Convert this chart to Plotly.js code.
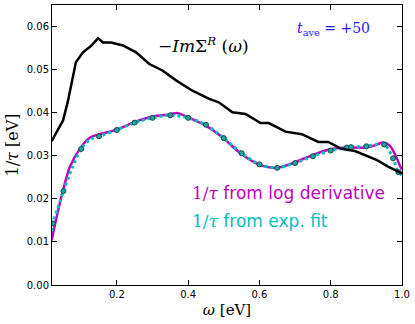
<!DOCTYPE html>
<html>
<head>
<meta charset="utf-8">
<script src="https://cdn.plot.ly/plotly-3.0.1.min.js"></script>
<style>
  html, body { margin: 0; padding: 0; background: #fff; }
  #chart { width: 415px; height: 324px; }
</style>
</head>
<body>
<div id="chart"></div>
<script>
// -Im Sigma^R (omega), black curve
var imOmega = [0.017, 0.049, 0.063, 0.073, 0.085, 0.105, 0.129, 0.147, 0.161, 0.184, 0.217, 0.254, 0.291, 0.328, 0.366, 0.412, 0.459, 0.486, 0.524, 0.561, 0.603, 0.626, 0.673, 0.719, 0.765, 0.793, 0.830, 0.868, 0.900, 0.930, 0.961, 0.993, 1.0];
var imSigma = [0.0334, 0.0382, 0.0428, 0.0467, 0.0517, 0.0540, 0.0556, 0.0573, 0.0563, 0.0563, 0.0556, 0.0540, 0.0513, 0.0498, 0.0475, 0.0451, 0.0432, 0.0424, 0.0401, 0.0397, 0.0376, 0.0376, 0.0356, 0.0350, 0.0332, 0.0332, 0.0316, 0.0311, 0.0300, 0.0290, 0.0275, 0.0262, 0.0259];

// 1/tau from log derivative, magenta
var logOmega = [0.017, 0.031, 0.049, 0.068, 0.096, 0.124, 0.152, 0.198, 0.249, 0.300, 0.347, 0.370, 0.403, 0.449, 0.496, 0.542, 0.598, 0.649, 0.700, 0.747, 0.793, 0.840, 0.896, 0.924, 0.945, 0.965, 0.984, 0.995, 1.0];
var logRate = [0.0104, 0.0158, 0.0220, 0.0274, 0.0316, 0.0342, 0.0350, 0.0360, 0.0378, 0.0391, 0.0396, 0.0399, 0.0388, 0.0370, 0.0343, 0.0309, 0.0280, 0.0272, 0.0285, 0.0301, 0.0314, 0.0319, 0.0319, 0.0324, 0.0331, 0.0324, 0.0297, 0.0275, 0.0268];

// 1/tau from exp. fit, cyan dotted
var fitOmega = [0.017, 0.02, 0.035, 0.05, 0.075, 0.10, 0.125, 0.15, 0.20, 0.25, 0.30, 0.35, 0.40, 0.45, 0.50, 0.55, 0.60, 0.65, 0.70, 0.75, 0.80, 0.85, 0.90, 0.95, 0.975, 0.99, 1.0];
var fitRate = [0.0125, 0.0143, 0.0180, 0.0218, 0.0272, 0.0316, 0.0338, 0.0345, 0.0360, 0.0377, 0.0388, 0.0394, 0.0388, 0.0372, 0.0341, 0.0306, 0.0280, 0.0272, 0.0283, 0.0299, 0.0312, 0.0319, 0.0322, 0.0326, 0.0294, 0.0262, 0.0255];

// fit sample points (circles)
var markOmega = [0.02, 0.05, 0.10, 0.15, 0.20, 0.25, 0.30, 0.35, 0.40, 0.45, 0.50, 0.55, 0.60, 0.65, 0.70, 0.75, 0.80, 0.845, 0.857, 0.90, 0.95, 0.975, 0.99];
var markRate = [0.0143, 0.0218, 0.0316, 0.0345, 0.0360, 0.0377, 0.0388, 0.0394, 0.0388, 0.0372, 0.0341, 0.0306, 0.0280, 0.0272, 0.0283, 0.0299, 0.0312, 0.0319, 0.0320, 0.0322, 0.0326, 0.0294, 0.0262];

var xTicks = [0.2, 0.4, 0.6, 0.8, 1.0];
var yTicks = [0.00, 0.01, 0.02, 0.03, 0.04, 0.05, 0.06];

var data = [
    { x: logOmega, y: logRate, mode: 'lines', line: { color: '#bf00bf', width: 2.5, shape: 'spline', smoothing: 0.8 } },
    { x: fitOmega, y: fitRate, mode: 'lines', line: { color: '#00bfbf', width: 3, dash: 'dot', shape: 'spline', smoothing: 0.8 } },
    { x: markOmega, y: markRate, mode: 'markers', marker: { size: 5, color: '#1fa5a5', line: { color: '#124848', width: 1 } } },
    { x: imOmega, y: imSigma, mode: 'lines', line: { color: '#000000', width: 2.5 } }
];

var serif = 'DejaVu Serif, Liberation Serif, serif';
var sans = 'DejaVu Sans, sans-serif';

var layout = {
    width: 415,
    height: 324,
    margin: { l: 52, r: 13, t: 5, b: 39 },
    showlegend: false,
    paper_bgcolor: '#ffffff',
    plot_bgcolor: '#ffffff',
    font: { family: sans, size: 10, color: '#000000' },
    xaxis: {
        range: [0.018, 1.0],
        tickvals: xTicks,
        ticktext: xTicks.map(function (v) { return v.toFixed(1); }),
        ticks: 'inside', ticklen: 5, tickcolor: '#000', mirror: 'allticks',
        showline: true, linecolor: '#000', linewidth: 1,
        showgrid: false, zeroline: false,
        tickfont: { family: sans, size: 10 },
        title: { text: '<i>ω</i> [eV]', font: { family: serif, size: 15 }, standoff: 5 }
    },
    yaxis: {
        range: [0, 0.065],
        tickvals: yTicks,
        ticktext: yTicks.map(function (v) { return v.toFixed(2); }),
        ticks: 'inside', ticklen: 5, tickcolor: '#000', mirror: 'allticks',
        showline: true, linecolor: '#000', linewidth: 1,
        showgrid: false, zeroline: false,
        tickfont: { family: sans, size: 10 },
        title: { text: '1/<i>τ</i> [eV]', font: { family: serif, size: 16 }, standoff: 4 }
    },
    annotations: [
        { x: 0.31, y: 0.0556, xref: 'x', yref: 'y', xanchor: 'left', yanchor: 'middle', showarrow: false,
          text: '−<i>Im</i>Σ<sup><i>R</i></sup> (<i>ω</i>)', font: { family: serif, size: 17, color: '#000' } },
        { x: 0.70, y: 0.0595, xref: 'x', yref: 'y', xanchor: 'left', yanchor: 'middle', showarrow: false,
          text: '<i>t</i><sub>ave</sub> = +50', font: { family: serif, size: 14, color: '#1a1aff' } },
        { x: 0.405, y: 0.0213, xref: 'x', yref: 'y', xanchor: 'left', yanchor: 'middle', showarrow: false,
          text: '<span style="font-family:DejaVu Serif">1/<i>τ</i></span> from log derivative', font: { family: sans, size: 17, color: '#bf00bf' } },
        { x: 0.405, y: 0.0148, xref: 'x', yref: 'y', xanchor: 'left', yanchor: 'middle', showarrow: false,
          text: '<span style="font-family:DejaVu Serif">1/<i>τ</i></span> from exp. fit', font: { family: sans, size: 17, color: '#00bfbf' } }
    ]
};

Plotly.newPlot('chart', data, layout, { displayModeBar: false, staticPlot: true });
</script>
</body>
</html>
